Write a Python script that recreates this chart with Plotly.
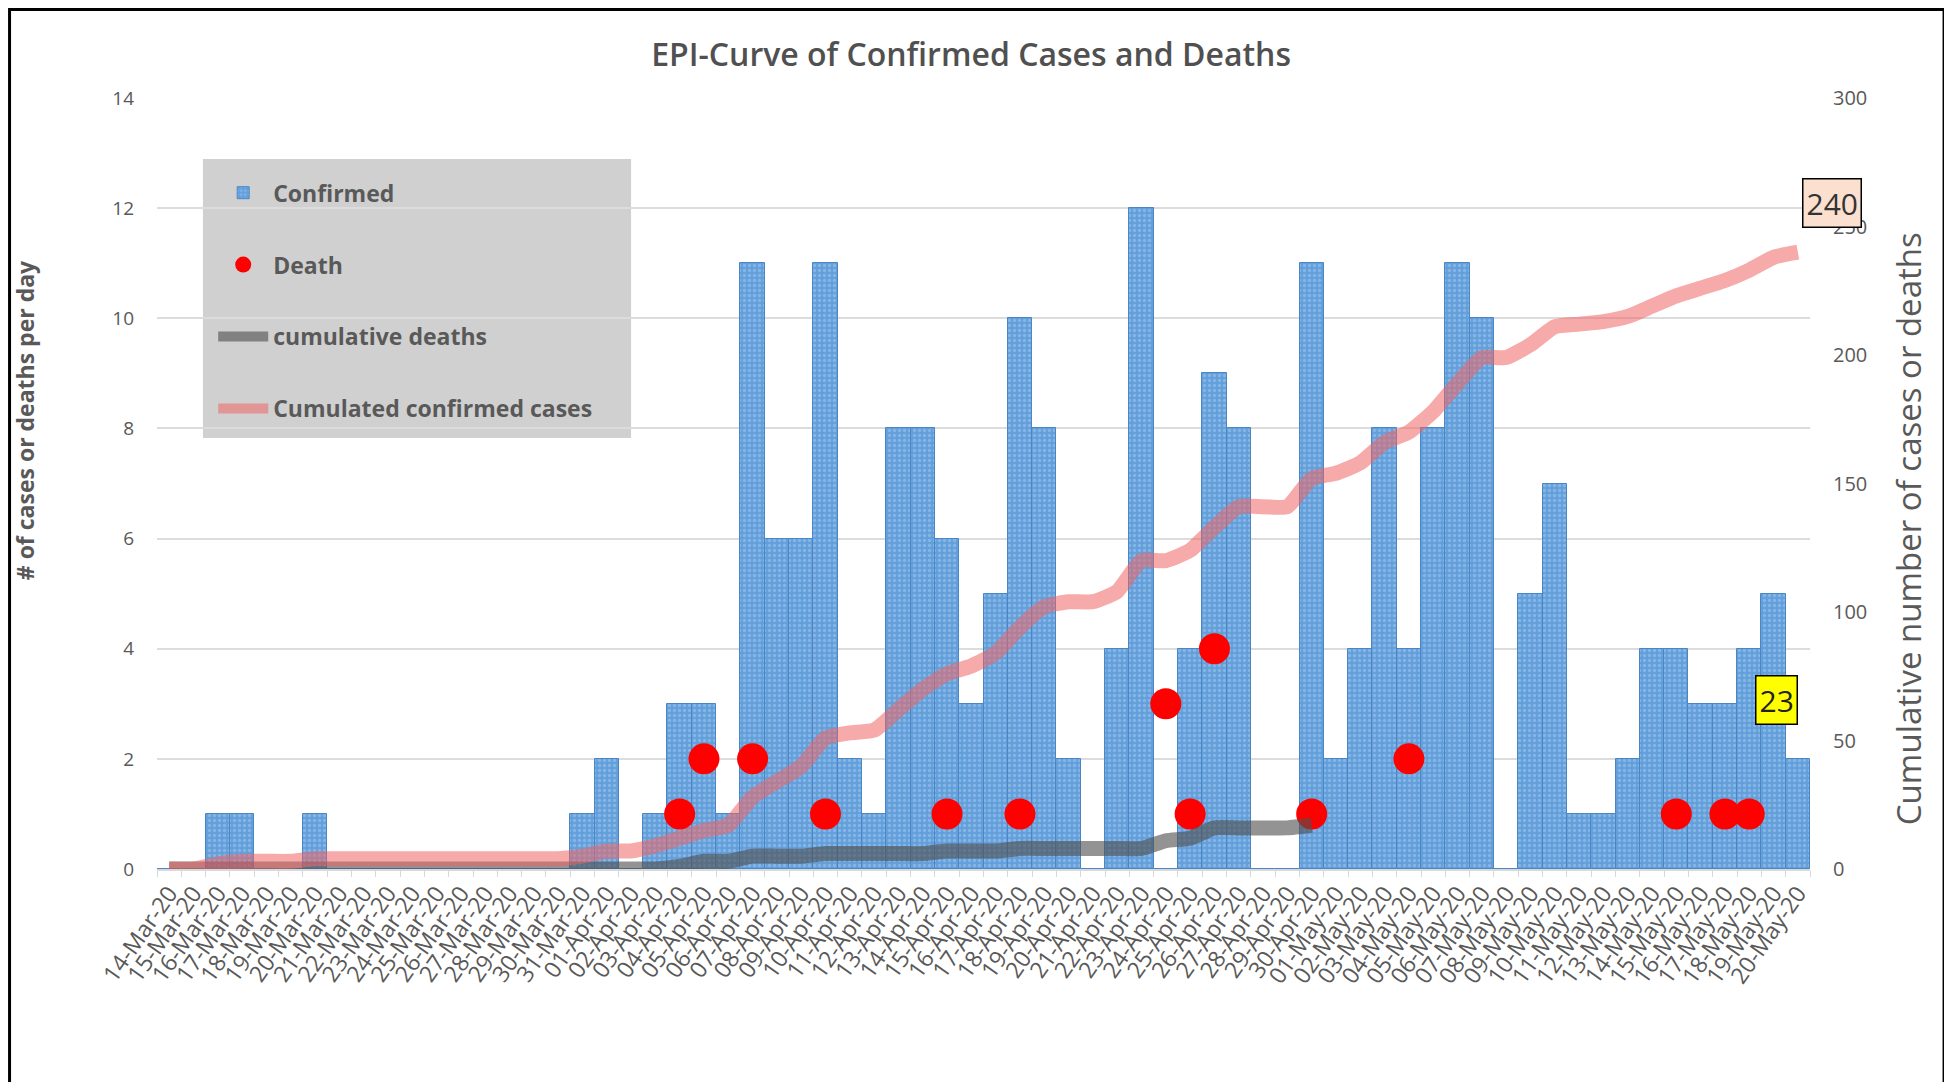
import plotly.graph_objects as go

dates = ["14-Mar-20","15-Mar-20","16-Mar-20","17-Mar-20","18-Mar-20","19-Mar-20","20-Mar-20",
         "21-Mar-20","22-Mar-20","23-Mar-20","24-Mar-20","25-Mar-20","26-Mar-20","27-Mar-20",
         "28-Mar-20","29-Mar-20","30-Mar-20","31-Mar-20","01-Apr-20","02-Apr-20","03-Apr-20",
         "04-Apr-20","05-Apr-20","06-Apr-20","07-Apr-20","08-Apr-20","09-Apr-20","10-Apr-20",
         "11-Apr-20","12-Apr-20","13-Apr-20","14-Apr-20","15-Apr-20","16-Apr-20","17-Apr-20",
         "18-Apr-20","19-Apr-20","20-Apr-20","21-Apr-20","22-Apr-20","23-Apr-20","24-Apr-20",
         "25-Apr-20","26-Apr-20","27-Apr-20","28-Apr-20","29-Apr-20","30-Apr-20","01-May-20",
         "02-May-20","03-May-20","04-May-20","05-May-20","06-May-20","07-May-20","08-May-20",
         "09-May-20","10-May-20","11-May-20","12-May-20","13-May-20","14-May-20","15-May-20",
         "16-May-20","17-May-20","18-May-20","19-May-20","20-May-20"]

confirmed = [0, 0, 1, 1, 0, 0, 1, 0, 0, 0, 0, 0, 0, 0, 0, 0, 0, 1, 2, 0, 1, 3, 3, 1,
             11, 6, 6, 11, 2, 1, 8, 8, 6, 3, 5, 10, 8, 2, 0, 4, 12, 0, 4, 9, 8, 0, 0,
             11, 2, 4, 8, 4, 8, 11, 10, 0, 5, 7, 1, 1, 2, 4, 4, 3, 3, 4, 5, 2]

deaths = [None, None, None, None, None, None, None, None, None, None, None, None, None, None,
          None, None, None, None, None, None, None, 1, 2, None, 2, None, None, 1,
          None, None, None, None, 1, None, None, 1, None, None, None, None, None, 3,
          1, 4, None, None, None, 1, None, None, None, 2, None, None, None, None,
          None, None, None, None, None, None, 1, None, 1, 1, None, None]

cum_deaths = [0, 0, 0, 0, 0, 0, 0, 0, 0, 0, 0, 0, 0, 0, 0, 0, 0, 0, 0, 0, 0, 1, 3, 3,
              5, 5, 5, 6, 6, 6, 6, 6, 7, 7, 7, 8, 8, 8, 8, 8, 8, 11, 12, 16, 16, 16, 16, 17,
              None, None, None, None, None, None, None, None, None, None, None, None,
              None, None, None, None, None, None, None, None]

cum_confirmed = [0, 0, 2, 3, 3, 3, 4, 4, 4, 4, 4, 4, 4, 4, 4, 4, 4, 5, 7, 7, 9, 12, 15, 17,
                 28, 34, 40, 51, 53, 54, 62, 70, 76, 79, 84, 94, 102, 104, 104, 108, 120, 120,
                 124, 133, 141, 141, 141, 152, 154, 158, 166, 170, 178, 189, 199, 199, 204,
                 211, 212, 213, 215, 219, 223, 226, 229, 233, 238, 240]

left_ticks = [0, 2, 4, 6, 8, 10, 12, 14]
right_ticks = [0, 50, 100, 150, 200, 250, 300]

total_cases_label = "240"
total_deaths_label = "23"

GRAY_TXT = "#595959"
FONT = "Open Sans"

fig = go.Figure()

fig.add_trace(go.Bar(
    x=dates, y=confirmed, name="Confirmed", legendgroup="a",
    marker=dict(color="#629FDB", line=dict(color="#4A86C6", width=1),
                pattern=dict(shape=".", fgcolor="#A9CCEF", size=5, solidity=0.35)),
    yaxis="y",
))

fig.add_trace(go.Scatter(
    x=dates, y=deaths, name="Death", legendgroup="b", mode="markers",
    marker=dict(color="#FF0000", size=31), yaxis="y",
))

fig.add_trace(go.Scatter(
    x=dates, y=cum_deaths, name="cumulative deaths", legendgroup="c", mode="lines",
    line=dict(color="rgba(80,80,80,0.62)", width=15, shape="spline", smoothing=0.5),
    yaxis="y2", connectgaps=False,
))

fig.add_trace(go.Scatter(
    x=dates, y=cum_confirmed, name="Cumulated confirmed cases", legendgroup="d", mode="lines",
    line=dict(color="rgba(240,100,100,0.55)", width=15, shape="spline", smoothing=0.5),
    yaxis="y2",
))

fig.update_layout(
    width=1952, height=1082,
    margin=dict(l=149, r=150, t=90, b=221, autoexpand=False),
    paper_bgcolor="white", plot_bgcolor="white",
    font=dict(family=FONT, color=GRAY_TXT),
    bargap=0,
    title=dict(text="EPI-Curve of Confirmed Cases and Deaths",
               font=dict(family=FONT, size=32, color="#505050", weight=600),
               x=0.4925, xref="paper", xanchor="center",
               y=1 - 47 / 1082, yref="container", yanchor="middle"),
    xaxis=dict(type="category", range=[-0.5, 67.5], autorange=False,
               tickmode="array", tickvals=dates, ticktext=dates,
               tickangle=-55, tickfont=dict(size=23, color=GRAY_TXT),
               tickson="boundaries", ticks="outside", ticklen=6, tickcolor="#D9D9D9",
               showline=True, linecolor="#D9D9D9", linewidth=1.5, showgrid=False),
    yaxis=dict(range=[0, 14], tickvals=left_ticks, showgrid=True, gridcolor="#DCDCDC",
               gridwidth=1.5, zeroline=False, tickfont=dict(size=19, color=GRAY_TXT),
               ticklabelstandoff=22),
    yaxis2=dict(range=[0, 300], tickvals=right_ticks, overlaying="y", side="right",
                showgrid=False, zeroline=False, tickfont=dict(size=20, color=GRAY_TXT),
                ticklabelstandoff=22),
    legend=dict(x=0.034, y=0.905, xanchor="left", yanchor="top",
                bgcolor="rgba(0,0,0,0)", borderwidth=0,
                traceorder="grouped", tracegroupgap=39,
                font=dict(family=FONT, size=23, color=GRAY_TXT, weight="bold"),
                itemwidth=50),
    showlegend=True,
)

# legend background panel
fig.add_shape(type="rect", xref="paper", yref="paper",
              x0=0.0278, x1=0.2868, y0=0.559, y1=0.9209,
              fillcolor="#D0D0D0", line=dict(width=0), layer="between")

fig.add_annotation(text="<b># of cases or deaths per day</b>", xref="paper", yref="paper",
                   x=-0.0799, y=0.582, xanchor="center", yanchor="middle",
                   textangle=-90, showarrow=False,
                   font=dict(size=23, color=GRAY_TXT, family=FONT))
fig.add_annotation(text="Cumulative number of cases or deaths", xref="paper", yref="paper",
                   x=1.06, y=0.441, xanchor="center", yanchor="middle",
                   textangle=-90, showarrow=False,
                   font=dict(size=33, color=GRAY_TXT, family=FONT))
fig.add_annotation(text=total_cases_label, xref="paper", yref="paper",
                   x=1.0133, y=0.864, xanchor="center", yanchor="middle",
                   showarrow=False, bgcolor="#FBDFCF",
                   bordercolor="black", borderwidth=1.5, borderpad=3,
                   font=dict(size=30, color="#333333", family=FONT))
fig.add_annotation(text=total_deaths_label, xref="paper", yref="paper",
                   x=0.980, y=0.219, xanchor="center", yanchor="middle",
                   showarrow=False, bgcolor="#FFFF00",
                   bordercolor="black", borderwidth=1.5, borderpad=3,
                   font=dict(size=30, color="#222222", family=FONT))

# outer black frame of the picture
fig.add_shape(type="rect", xref="paper", yref="paper",
              x0=-0.0892, x1=1.0811, y0=-0.35, y1=1.1148,
              line=dict(color="black", width=3), fillcolor="rgba(0,0,0,0)", layer="above")

fig.write_html("out.html")
